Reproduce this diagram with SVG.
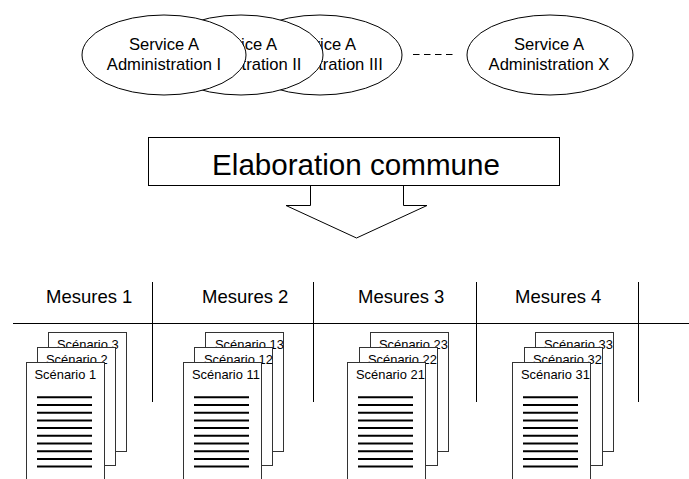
<svg xmlns="http://www.w3.org/2000/svg" width="689" height="479" viewBox="0 0 689 479">
  <style>
    .svc { fill: #fff; stroke: #000; stroke-width: 1; }
    .t { font-family: "Liberation Sans", Arial, sans-serif; fill: #000; }
    .svc-t { font-size: 16.6px; text-anchor: middle; }
    .mes-t { font-size: 18.5px; }
    .doc { fill: #fff; stroke: #333; stroke-width: 1; }
    .doc-t { font-size: 12.9px; }
    .rule { stroke: #000; stroke-width: 2; }
    .grid { stroke: #000; stroke-width: 1; fill: none; }
  </style>
  <defs>
    <!-- text lines printed on the front page of a stack -->
    <g id="page-lines">
      <line class="rule" x1="11" y1="397.3" x2="66" y2="397.3"/>
      <line class="rule" x1="11" y1="405" x2="66" y2="405"/>
      <line class="rule" x1="11" y1="412.7" x2="66" y2="412.7"/>
      <line class="rule" x1="11" y1="420.4" x2="66" y2="420.4"/>
      <line class="rule" x1="11" y1="428.1" x2="66" y2="428.1"/>
      <line class="rule" x1="11" y1="435.8" x2="66" y2="435.8"/>
      <line class="rule" x1="11" y1="443.5" x2="66" y2="443.5"/>
      <line class="rule" x1="11" y1="451.2" x2="66" y2="451.2"/>
      <line class="rule" x1="11" y1="458.9" x2="66" y2="458.9"/>
      <line class="rule" x1="11" y1="466.6" x2="66" y2="466.6"/>
    </g>
  </defs>

  <!-- services, drawn back to front -->
  <g id="svc-3">
    <ellipse class="svc" cx="320" cy="55" rx="82" ry="40"/>
    <text class="t svc-t" x="321" y="50">Service A</text>
    <text class="t svc-t" x="321" y="70">Administration III</text>
  </g>
  <g id="svc-2">
    <ellipse class="svc" cx="241" cy="55" rx="82" ry="40"/>
    <text class="t svc-t" x="242" y="50">Service A</text>
    <text class="t svc-t" x="242" y="70">Administration II</text>
  </g>
  <g id="svc-1">
    <ellipse class="svc" cx="164" cy="55" rx="82" ry="40"/>
    <text class="t svc-t" x="164" y="50">Service A</text>
    <text class="t svc-t" x="164" y="70">Administration I</text>
  </g>
  <g id="svc-x">
    <ellipse class="svc" cx="550" cy="55" rx="83" ry="40"/>
    <text class="t svc-t" x="549" y="50">Service A</text>
    <text class="t svc-t" x="549" y="70">Administration X</text>
  </g>

  <g id="connectors">
    <line x1="413" y1="54.5" x2="453" y2="54.5" stroke="#000" stroke-width="1" stroke-dasharray="6.5 4.5"/>
  </g>

  <!-- shared elaboration block arrow -->
  <g id="elaboration">
    <polygon points="310.5,185.5 310.5,205.5 286,205.5 356.5,238 427,205.5 403.5,205.5 403.5,185.5" fill="#fff" stroke="#000" stroke-width="1"/>
    <rect x="148.5" y="137.5" width="411" height="48" fill="#fff" stroke="#000" stroke-width="1"/>
    <text class="t" x="356" y="175" font-size="29.6" text-anchor="middle">Elaboration commune</text>
  </g>

  <!-- measures table -->
  <g id="table">
    <line class="grid" x1="13" y1="323.5" x2="689" y2="323.5"/>
    <line class="grid" x1="152.5" y1="282" x2="152.5" y2="402"/>
    <line class="grid" x1="313.5" y1="282" x2="313.5" y2="402"/>
    <line class="grid" x1="476.5" y1="282" x2="476.5" y2="402"/>
    <line class="grid" x1="638.5" y1="282" x2="638.5" y2="402"/>
    <text class="t mes-t" x="46" y="303">Mesures 1</text>
    <text class="t mes-t" x="202" y="303">Mesures 2</text>
    <text class="t mes-t" x="358" y="303">Mesures 3</text>
    <text class="t mes-t" x="515" y="303">Mesures 4</text>
  </g>

  <!-- scenario stacks -->
  <g id="stack-1" transform="translate(26,0)">
    <rect class="doc" x="22.5" y="332.5" width="78" height="119"/>
    <text class="t doc-t" x="31" y="349">Scénario 3</text>
    <rect class="doc" x="11.5" y="347.5" width="78" height="118"/>
    <text class="t doc-t" x="20" y="364">Scénario 2</text>
    <rect class="doc" x="0.5" y="362.5" width="78" height="130"/>
    <text class="t doc-t" x="8.5" y="379">Scénario 1</text>
    <use href="#page-lines"/>
  </g>
  <g id="stack-2" transform="translate(183,0)">
    <rect class="doc" x="22.5" y="332.5" width="78" height="119"/>
    <text class="t doc-t" x="32" y="349">Scénario 13</text>
    <rect class="doc" x="11.5" y="347.5" width="78" height="118"/>
    <text class="t doc-t" x="21" y="364">Scénario 12</text>
    <rect class="doc" x="0.5" y="362.5" width="78" height="130"/>
    <text class="t doc-t" x="9" y="379">Scénario 11</text>
    <use href="#page-lines"/>
  </g>
  <g id="stack-3" transform="translate(347,0)">
    <rect class="doc" x="23.5" y="332.5" width="78" height="119"/>
    <text class="t doc-t" x="32" y="349">Scénario 23</text>
    <rect class="doc" x="12.5" y="347.5" width="78" height="118"/>
    <text class="t doc-t" x="21" y="364">Scénario 22</text>
    <rect class="doc" x="0.5" y="362.5" width="78" height="130"/>
    <text class="t doc-t" x="9" y="379">Scénario 21</text>
    <use href="#page-lines"/>
  </g>
  <g id="stack-4" transform="translate(512,0)">
    <rect class="doc" x="23.5" y="332.5" width="78" height="119"/>
    <text class="t doc-t" x="32" y="349">Scénario 33</text>
    <rect class="doc" x="12.5" y="347.5" width="78" height="118"/>
    <text class="t doc-t" x="21" y="364">Scénario 32</text>
    <rect class="doc" x="0.5" y="362.5" width="78" height="130"/>
    <text class="t doc-t" x="9" y="379">Scénario 31</text>
    <use href="#page-lines"/>
  </g>
</svg>
